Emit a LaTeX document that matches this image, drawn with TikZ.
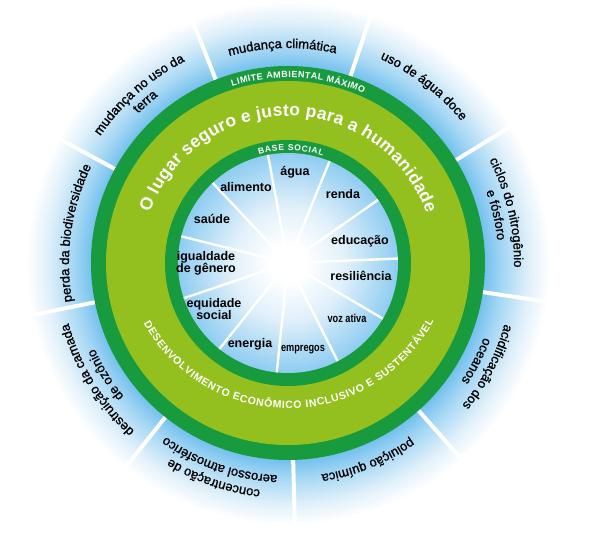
\documentclass[tikz,border=0pt]{standalone}
\usepackage{fontspec}
\setmainfont{Liberation Sans}
\newfontfamily\medfont[FakeBold=1]{Liberation Sans}
\newfontfamily\narrowfont[FakeStretch=0.8]{Liberation Sans}
\usetikzlibrary{decorations.text}

\definecolor{ringgreen}{RGB}{24,155,62}
\definecolor{bandgreen}{RGB}{147,192,31}
\definecolor{skydeep}{RGB}{108,189,237}
\definecolor{skymid}{RGB}{165,215,244}
\definecolor{skylight}{RGB}{224,240,250}

\pgfdeclareradialshading{planetglow}{\pgfpoint{0bp}{0bp}}{color(0bp)=(skydeep); color(18.5bp)=(skydeep); color(20.5bp)=(skymid); color(23bp)=(skylight); color(25bp)=(white); color(50bp)=(white)}
\pgfdeclareradialshading{socialglow}{\pgfpoint{0bp}{0bp}}{color(0bp)=(white); color(4bp)=(white); color(13bp)=(skylight); color(25bp)=(skymid!60!skydeep); color(50bp)=(skymid!60!skydeep)}

\newcommand\ringlabel[3]{%
  \path[decorate,decoration={text along path,text align=center,
      text={|\medfont\fontsize{13}{13}\selectfont|#3}}]
    ({#1+45}:#2pt) arc[start angle={#1+45},end angle={#1-45},radius=#2pt];}

\begin{document}
\begin{tikzpicture}[x=1pt,y=1pt,
    inlabel/.style={font=\bfseries\fontsize{12.5}{12}\selectfont,align=center},
    smalllabel/.style={font=\narrowfont\bfseries\fontsize{11.5}{12}\selectfont},
    spoke/.style={white,line width=2.4pt},
    divider/.style={white,line width=4pt}]
  \useasboundingbox[fill=white] (-288,-275) rectangle (304,263);
  \shade[shading=planetglow] (0,0) circle[radius=262pt];
  \foreach \k in {0,...,8}
    \draw[divider] ({71.5+40*\k}:190pt) -- ({71.5+40*\k}:266pt);
  \fill[ringgreen] (0,0) circle[radius=197pt];
  \fill[bandgreen] (0,0) circle[radius=182pt];
  \fill[ringgreen] (0,0) circle[radius=123pt];
  \shade[shading=socialglow] (0,0) circle[radius=110pt];
  \foreach \k in {0,...,10}
    \draw[spoke] (0,0) -- ({100.5-\k*32.727}:110pt);

  \ringlabel{91.5}{215}{mudança climática}
  \ringlabel{52.5}{224}{uso de água doce}
  \ringlabel{13}{226}{ciclos do nitrogênio}
  \ringlabel{13}{210.5}{e fósforo}
  \ringlabel{332.5}{225}{acidificação dos}
  \ringlabel{332.5}{209.5}{oceanos}
  \ringlabel{292}{214}{poluição química}
  \ringlabel{251}{228.5}{concentração de}
  \ringlabel{251}{212.5}{aerossol atmosférico}
  \ringlabel{211.5}{227.5}{destruição da camada}
  \ringlabel{211.5}{211.5}{de ozônio}
  \ringlabel{172}{219}{perda da biodiversidade}
  \ringlabel{131.5}{226.5}{mudança no uso da}
  \ringlabel{131.5}{211.5}{terra}

  \path[decorate,decoration={text along path,text align=fit to path,text color=white,
      text={|\bfseries\fontsize{9}{9}\selectfont|LIMITE AMBIENTAL MÁXIMO}}]
    (107.5:185.5pt) arc[start angle=107.5,end angle=66,radius=185.5pt];
  \path[decorate,decoration={text along path,text align=fit to path,text color=white,
      text={|\bfseries\fontsize{17.5}{18}\selectfont|O lugar seguro e justo para a humanidade}}]
    (160:147pt) arc[start angle=160,end angle=19.5,radius=147pt];
  \path[decorate,decoration={text along path,text align=fit to path,text color=white,
      text={|\bfseries\fontsize{10.5}{11}\selectfont|DESENVOLVIMENTO ECONÔMICO INCLUSIVO E SUSTENTÁVEL}}]
    ([shift={(0,19.5)}]209:165pt) arc[start angle=209,end angle=332,radius=165pt];
  \path[decorate,decoration={text along path,text align=fit to path,text color=white,
      text={|\bfseries\fontsize{8.5}{9}\selectfont|BASE SOCIAL}}]
    (105:112.5pt) arc[start angle=105,end angle=72,radius=112.5pt];

  \node[inlabel] (agua) at (7,91) {água};
  \node[inlabel] (alimento) at (-42,76) {alimento};
  \node[inlabel] (renda) at (55,69) {renda};
  \node[inlabel] (saude) at (-76,44) {saúde};
  \node[inlabel] (educacao) at (72,22) {educação};
  \node[inlabel] (genero) at (-82,0) {igualdade\\de gênero};
  \node[inlabel] (resiliencia) at (73,-13) {resiliência};
  \node[inlabel] (equidade) at (-74,-46) {equidade\\social};
  \node[smalllabel] (vozativa) at (59,-55) {voz ativa};
  \node[inlabel] (energia) at (-38,-81) {energia};
  \node[smalllabel] (empregos) at (15,-87) {empregos};
\end{tikzpicture}
\end{document}
